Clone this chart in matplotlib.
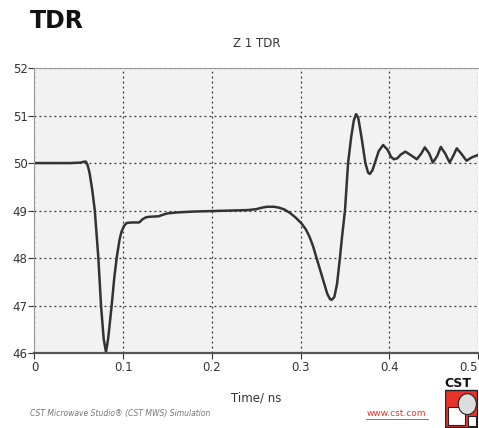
import matplotlib.pyplot as plt
from matplotlib.patches import Rectangle, Circle, Polygon

# Z 1 TDR curve (time in ns, impedance in Ohm)
time_ns = [0.0, 0.02, 0.04, 0.052, 0.056, 0.058, 0.060, 0.062, 0.065, 0.068,
           0.072, 0.075, 0.078, 0.0806, 0.083, 0.087, 0.090, 0.093, 0.096,
           0.098, 0.101, 0.104, 0.110, 0.118, 0.122, 0.126, 0.130, 0.140,
           0.146, 0.150, 0.160, 0.180, 0.200, 0.220, 0.240, 0.250, 0.256,
           0.262, 0.270, 0.276, 0.282, 0.288, 0.294, 0.301, 0.306, 0.310,
           0.314, 0.318, 0.322, 0.326, 0.330, 0.333, 0.335, 0.338, 0.341,
           0.344, 0.347, 0.350, 0.3535, 0.357, 0.360, 0.3625, 0.365, 0.369,
           0.373, 0.376, 0.378, 0.381, 0.384, 0.388, 0.393, 0.398, 0.402,
           0.405, 0.409, 0.413, 0.418, 0.424, 0.431, 0.436, 0.440, 0.445,
           0.449, 0.454, 0.458, 0.463, 0.468, 0.472, 0.476, 0.481, 0.487,
           0.493, 0.500]
z_ohm = [50.0, 50.0, 50.0, 50.01, 50.03, 50.03, 49.95, 49.8, 49.45, 49.0,
         48.0, 47.0, 46.3, 46.02, 46.3, 47.0, 47.6, 48.05, 48.4,
         48.55, 48.68, 48.74, 48.75, 48.75, 48.82, 48.86, 48.87, 48.88,
         48.92, 48.94, 48.96, 48.98, 48.99, 49.0, 49.01, 49.03, 49.06,
         49.08, 49.08, 49.06, 49.02, 48.95, 48.86, 48.73, 48.6, 48.45,
         48.25, 48.0, 47.75, 47.5, 47.25, 47.14, 47.12, 47.18, 47.45,
         47.95, 48.5, 49.0, 50.0, 50.55, 50.9, 51.03, 50.95, 50.5,
         50.0, 49.8, 49.77, 49.85, 50.02, 50.25, 50.38, 50.28, 50.13,
         50.08, 50.1, 50.18, 50.24, 50.17, 50.08, 50.2, 50.33, 50.2,
         50.01, 50.15, 50.34, 50.2, 50.01, 50.15, 50.31, 50.2, 50.05,
         50.12, 50.17]

x_ticks = [0, 0.1, 0.2, 0.3, 0.4, 0.5]
x_tick_labels = ["0", "0.1", "0.2", "0.3", "0.4", "0.5"]
y_ticks = [46, 47, 48, 49, 50, 51, 52]

fig = plt.figure(figsize=(4.79, 4.28), dpi=100)
ax = fig.add_axes([0.072, 0.175, 0.926, 0.666])
ax.set_facecolor("#f2f2f2")

ax.plot(time_ns, z_ohm, color="#333333", lw=1.8, solid_joinstyle="round")

ax.set_xlim(0, 0.5)
ax.set_ylim(46, 52)
ax.set_xticks(x_ticks)
ax.set_xticklabels(x_tick_labels)
ax.set_yticks(y_ticks)
ax.grid(True, color="#333333", ls=(0, (1.5, 2.5)), lw=0.9)
ax.tick_params(axis="both", labelsize=8.5, colors="#333333", length=4,
               width=0.8)
ax.tick_params(axis="x", direction="out", pad=2)
ax.tick_params(axis="y", pad=1)
# last x label sits against the right edge, as in the original
ax.get_xticklabels()[-1].set_horizontalalignment("right")

for s in ["top", "left", "right"]:
    ax.spines[s].set_color("#999999")
    ax.spines[s].set_linewidth(0.8)
ax.spines["right"].set_visible(False)
ax.spines["bottom"].set_color("#555555")
ax.spines["bottom"].set_linewidth(1.6)

ax.set_title("Z 1 TDR", fontsize=8.5, color="#333333", pad=15)
ax.set_xlabel("Time/ ns", fontsize=8.5, color="#333333", labelpad=12)

fig.text(0.062, 0.935, "TDR", fontsize=17, fontweight="bold", color="#111111")
fig.text(0.063, 0.028, "CST Microwave Studio\u00ae (CST MWS) Simulation",
         fontsize=5.5, style="italic", color="#777777")
fig.text(0.765, 0.028, "www.cst.com", fontsize=6.5, color="#e8332a")
fig.add_artist(plt.Line2D([0.765, 0.893], [0.022, 0.022], color="#e8332a",
                          lw=0.6, transform=fig.transFigure))

# CST logo in the lower right corner
fig.text(0.928, 0.095, "CST", fontsize=9, fontweight="bold", color="#111111")
logo = fig.add_axes([0.928, 0.0, 0.07, 0.09])
logo.set_xlim(0, 1)
logo.set_ylim(0, 1)
logo.axis("off")
logo.add_patch(Rectangle((0.02, 0.02), 0.96, 0.96, facecolor="#e8332a",
                         edgecolor="#222222", lw=1))
logo.add_patch(Polygon([(0.1, 0.08), (0.6, 0.08), (0.6, 0.55), (0.1, 0.55)],
                       facecolor="white", edgecolor="#222222", lw=0.8))
logo.add_patch(Circle((0.68, 0.62), 0.27, facecolor="#dddddd",
                      edgecolor="#222222", lw=0.8))
logo.add_patch(Rectangle((0.7, 0.05), 0.25, 0.25, facecolor="white",
                         edgecolor="#222222", lw=0.8))

fig.savefig("out.png", dpi=100)
